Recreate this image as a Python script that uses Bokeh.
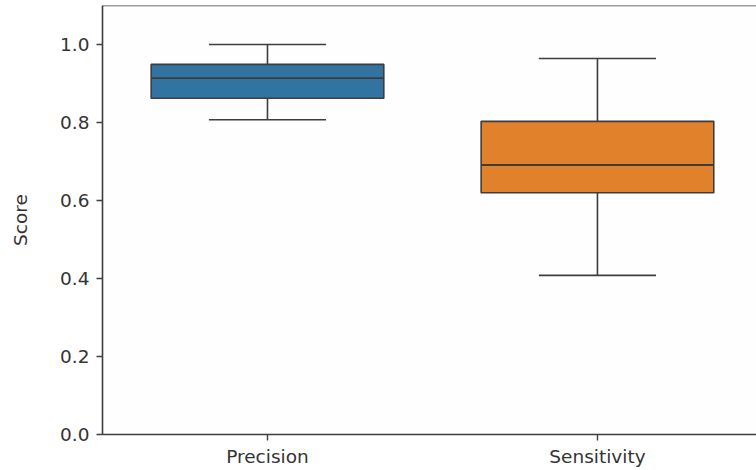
from bokeh.plotting import figure
from bokeh.models import Range1d, FixedTicker, Span
from bokeh.embed import file_html
from bokeh.resources import INLINE

categories = ["Precision", "Sensitivity"]
whisker_low = [0.807, 0.408]
q1 = [0.862, 0.620]
median = [0.914, 0.691]
q3 = [0.949, 0.803]
whisker_high = [1.0, 0.964]
colors = ["#3274A1", "#E1812C"]
y_label = "Score"

xs = list(range(len(categories)))
box_w = 0.705
cap_w = 0.355
edge = "#3d3d3d"
txt = "#333333"
font = "DejaVu Sans"

p = figure(width=756, height=470, output_backend="svg", toolbar_location=None,
           x_range=Range1d(-0.5, 1.482), y_range=Range1d(0, 1.1),
           min_border_left=102, min_border_right=0, min_border_top=5, min_border_bottom=36)
p.outline_line_color = None
p.xgrid.visible = False
p.ygrid.visible = False
p.background_fill_color = "#fefefe"

# whiskers
p.segment(x0=xs, x1=xs, y0=q3, y1=whisker_high, line_color=edge, line_width=1.6)
p.segment(x0=xs, x1=xs, y0=whisker_low, y1=q1, line_color=edge, line_width=1.6)
p.segment(x0=[x - cap_w / 2 for x in xs], x1=[x + cap_w / 2 for x in xs], y0=whisker_high, y1=whisker_high,
          line_color=edge, line_width=1.6)
p.segment(x0=[x - cap_w / 2 for x in xs], x1=[x + cap_w / 2 for x in xs], y0=whisker_low, y1=whisker_low,
          line_color=edge, line_width=1.6)
# boxes
p.vbar(x=xs, width=box_w, bottom=q1, top=q3, fill_color=colors, line_color=edge, line_width=1.6)
p.segment(x0=[x - box_w / 2 for x in xs], x1=[x + box_w / 2 for x in xs], y0=median, y1=median,
          line_color=edge, line_width=1.8)

# top spine
p.add_layout(Span(location=1.1, dimension="width", line_color=edge, line_width=1.6))

for ax in (p.xaxis[0], p.yaxis[0]):
    ax.axis_line_color = edge
    ax.axis_line_width = 1.6
    ax.major_tick_line_color = edge
    ax.major_tick_line_width = 1.4
    ax.major_tick_out = 6
    ax.major_tick_in = 0
    ax.minor_tick_line_color = None
    ax.major_label_text_font = font
    ax.major_label_text_font_size = "18.5px"
    ax.major_label_text_color = txt

p.xaxis.ticker = FixedTicker(ticks=xs)
p.xaxis.major_label_overrides = {i: c for i, c in enumerate(categories)}
p.xaxis.major_label_standoff = 5
p.yaxis.ticker = FixedTicker(ticks=[0.0, 0.2, 0.4, 0.6, 0.8, 1.0])
p.yaxis.major_label_overrides = {0.0: "0.0", 0.2: "0.2", 0.4: "0.4", 0.6: "0.6", 0.8: "0.8", 1.0: "1.0"}
p.yaxis.major_label_standoff = 7
p.yaxis.axis_label = y_label
p.yaxis.axis_label_text_font = font
p.yaxis.axis_label_text_font_size = "18.5px"
p.yaxis.axis_label_text_font_style = "normal"
p.yaxis.axis_label_text_color = txt
p.yaxis.axis_label_standoff = 26

open("out.html", "w").write(file_html(p, INLINE))
